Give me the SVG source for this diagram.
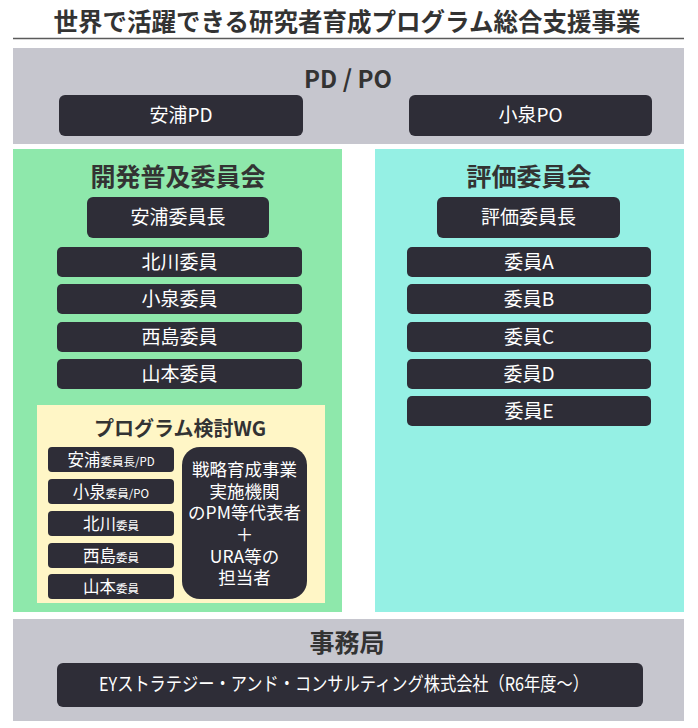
<svg xmlns="http://www.w3.org/2000/svg" width="698" height="728" viewBox="0 0 698 728">
<style>
.bg{fill:#ffffff}
.sec{fill:#c6c6ce}
.green{fill:#8ee8ab}
.cyan{fill:#95f0e4}
.yellow{fill:#fff6c6}
.box{fill:#2e2d37}
.h{font-family:"Noto Sans CJK JP","Noto Sans",sans-serif;font-weight:700;fill:#333333;text-anchor:middle}
.t{font-family:"Noto Sans CJK JP","Noto Sans",sans-serif;font-weight:400;fill:#ffffff;text-anchor:middle;font-size:19px}
.s{font-size:11.5px}
.w{font-size:16.5px}
.p{font-size:17.5px}
</style>
<rect class="bg" x="0" y="0" width="698" height="728"/>
<g id="title">
<text class="h" x="347" y="31" font-size="24.5">世界で活躍できる研究者育成プログラム総合支援事業</text>
<line x1="13" y1="38.5" x2="684" y2="38.5" stroke="#5a5a5a" stroke-width="1.5"/>
</g>
<g id="pdpo">
<rect class="sec" x="13" y="48" width="671" height="96"/>
<text class="h" x="348" y="88" font-size="24">PD / PO</text>
</g>
<g id="yasuura-pd">
<rect class="box" x="59" y="95" width="244" height="41" rx="6"/>
<text class="t" x="181" y="122">安浦PD</text>
</g>
<g id="koizumi-po">
<rect class="box" x="409" y="95" width="243" height="41" rx="6"/>
<text class="t" x="530.5" y="122">小泉PO</text>
</g>
<g id="kaihatsu">
<rect class="green" x="13" y="149" width="329" height="463"/>
<text class="h" x="178" y="186" font-size="25">開発普及委員会</text>
</g>
<g id="hyoka">
<rect class="cyan" x="375" y="149" width="309" height="463"/>
<text class="h" x="529" y="186" font-size="25">評価委員会</text>
</g>
<g id="yasuura-chair">
<rect class="box" x="87" y="197" width="182" height="41" rx="6"/>
<text class="t" x="178" y="224">安浦委員長</text>
</g>
<g id="kitagawa">
<rect class="box" x="57" y="247" width="245" height="30" rx="5"/>
<text class="t" x="179.5" y="268.5">北川委員</text>
</g>
<g id="koizumi">
<rect class="box" x="57" y="284" width="245" height="30" rx="5"/>
<text class="t" x="179.5" y="305.5">小泉委員</text>
</g>
<g id="nishijima">
<rect class="box" x="57" y="322" width="245" height="30" rx="5"/>
<text class="t" x="179.5" y="343.5">西島委員</text>
</g>
<g id="yamamoto">
<rect class="box" x="57" y="359" width="245" height="30" rx="5"/>
<text class="t" x="179.5" y="380.5">山本委員</text>
</g>
<g id="hyoka-chair">
<rect class="box" x="437" y="197" width="183" height="41" rx="6"/>
<text class="t" x="528.5" y="224">評価委員長</text>
</g>
<g id="member-a">
<rect class="box" x="407" y="247" width="244" height="30" rx="5"/>
<text class="t" x="529" y="268.5">委員A</text>
</g>
<g id="member-b">
<rect class="box" x="407" y="284" width="244" height="30" rx="5"/>
<text class="t" x="529" y="305.5">委員B</text>
</g>
<g id="member-c">
<rect class="box" x="407" y="322" width="244" height="30" rx="5"/>
<text class="t" x="529" y="343.5">委員C</text>
</g>
<g id="member-d">
<rect class="box" x="407" y="359" width="244" height="30" rx="5"/>
<text class="t" x="529" y="380.5">委員D</text>
</g>
<g id="member-e">
<rect class="box" x="407" y="396" width="244" height="30" rx="5"/>
<text class="t" x="529" y="417.5">委員E</text>
</g>
<g id="wg">
<rect class="yellow" x="37" y="405" width="288" height="198"/>
<text class="h" x="180" y="435.5" font-size="20">プログラム検討WG</text>
</g>
<g id="wg-yasuura">
<rect class="box" x="48" y="447" width="126" height="25" rx="4"/>
<text class="t w" x="111" y="466"><tspan>安浦</tspan><tspan class="s">委員長/PD</tspan></text>
</g>
<g id="wg-koizumi">
<rect class="box" x="48" y="479" width="126" height="25" rx="4"/>
<text class="t w" x="111" y="498"><tspan>小泉</tspan><tspan class="s">委員/PO</tspan></text>
</g>
<g id="wg-kitagawa">
<rect class="box" x="48" y="511" width="126" height="25" rx="4"/>
<text class="t w" x="111" y="530"><tspan>北川</tspan><tspan class="s">委員</tspan></text>
</g>
<g id="wg-nishijima">
<rect class="box" x="48" y="543" width="126" height="25" rx="4"/>
<text class="t w" x="111" y="562"><tspan>西島</tspan><tspan class="s">委員</tspan></text>
</g>
<g id="wg-yamamoto">
<rect class="box" x="48" y="574" width="126" height="25" rx="4"/>
<text class="t w" x="111" y="593"><tspan>山本</tspan><tspan class="s">委員</tspan></text>
</g>
<g id="wg-pm">
<rect class="box" x="182" y="447" width="125" height="152" rx="18"/>
<text class="t p" x="244.5" y="476"><tspan x="244.5" y="476">戦略育成事業</tspan><tspan x="244.5" y="497.5">実施機関</tspan><tspan x="244.5" y="519">のPM等代表者</tspan><tspan x="244.5" y="541">＋</tspan><tspan x="244.5" y="562.5">URA等の</tspan><tspan x="244.5" y="584">担当者</tspan></text>
</g>
<g id="jimukyoku">
<rect class="sec" x="13" y="619" width="671" height="102"/>
<text class="h" x="347" y="652" font-size="25">事務局</text>
</g>
<g id="ey">
<rect class="box" x="57" y="663" width="586" height="44" rx="6"/>
<text class="t" x="344" y="691" font-size="17.5" textLength="490" lengthAdjust="spacingAndGlyphs">EYストラテジー・アンド・コンサルティング株式会社（R6年度～）</text>
</g>
<g id="connectors"></g>
</svg>
